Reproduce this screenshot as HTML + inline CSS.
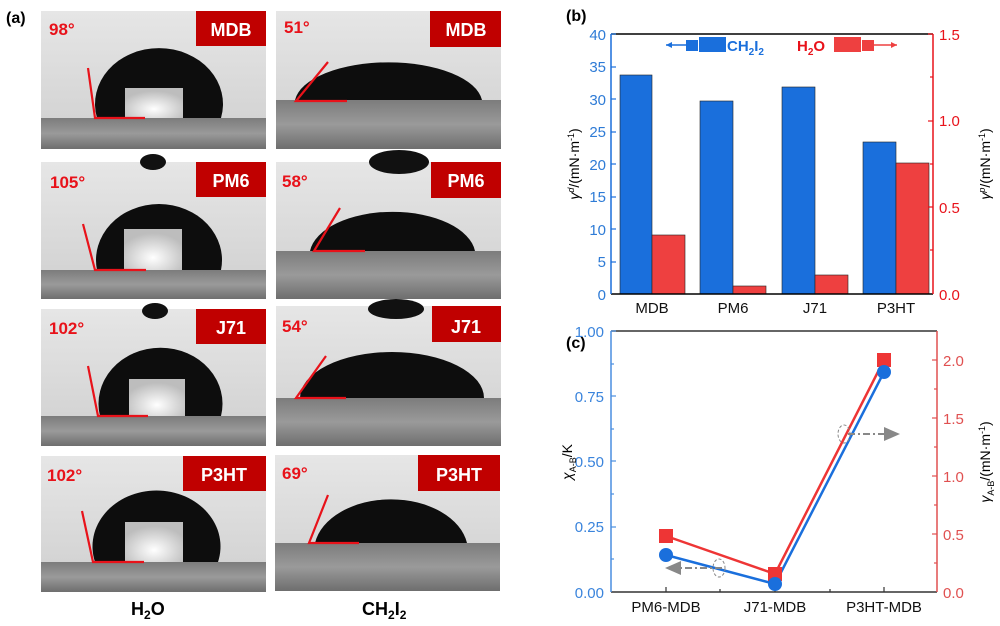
<!DOCTYPE html>
<html><head><meta charset="utf-8"><style>
html,body{margin:0;padding:0;background:#fff;}
svg{display:block;font-family:"Liberation Sans",Arial,sans-serif;}
</style></head><body>
<svg width="1000" height="626" viewBox="0 0 1000 626" xmlns="http://www.w3.org/2000/svg">
<defs>
<linearGradient id="bg" x1="0" y1="0" x2="0" y2="1">
<stop offset="0" stop-color="#e6e6e6"/><stop offset="1" stop-color="#cfcfcf"/>
</linearGradient>
<linearGradient id="sub" x1="0" y1="0" x2="0" y2="1">
<stop offset="0" stop-color="#7c7c7c"/><stop offset="0.5" stop-color="#9a9a9a"/><stop offset="1" stop-color="#6e6e6e"/>
</linearGradient>
<radialGradient id="hl" cx="0.5" cy="0.7" r="0.6">
<stop offset="0" stop-color="#ffffff"/><stop offset="1" stop-color="#bdbdbd"/>
</radialGradient>
</defs>

<text x="6" y="23" font-size="16" font-weight="bold" fill="#000">(a)</text>

<!-- Water column -->
<g transform="translate(41,11)">
<rect width="225" height="138" fill="url(#bg)"/><rect y="107" width="225" height="31" fill="url(#sub)"/>
<path d="M56,107 A64,56 0 1 1 180,107 Z" fill="#0d0d0d"/>
<rect x="84" y="77" width="58" height="30" fill="url(#hl)"/>
<polyline points="47,57 54,107 104,107" fill="none" stroke="#e8121a" stroke-width="2.2"/>
<text x="8" y="24" font-size="17" font-weight="bold" fill="#e8121a">98°</text>
<rect x="155" y="0" width="70" height="35" fill="#c00000"/><text x="190" y="25" font-size="18" font-weight="bold" fill="#fff" text-anchor="middle">MDB</text>
</g>
<g transform="translate(41,162)">
<rect width="225" height="137" fill="url(#bg)"/><rect y="108" width="225" height="29" fill="url(#sub)"/>
<ellipse cx="112" cy="0" rx="13" ry="8" fill="#111"/>
<path d="M56,108 A63,56 0 1 1 180,108 Z" fill="#0d0d0d"/>
<rect x="83" y="67" width="58" height="41" fill="url(#hl)"/>
<polyline points="42,62 54,108 105,108" fill="none" stroke="#e8121a" stroke-width="2.2"/>
<text x="9" y="26" font-size="17" font-weight="bold" fill="#e8121a">105°</text>
<rect x="155" y="0" width="70" height="35" fill="#c00000"/><text x="190" y="25" font-size="18" font-weight="bold" fill="#fff" text-anchor="middle">PM6</text>
</g>
<g transform="translate(41,309)">
<rect width="225" height="137" fill="url(#bg)"/><rect y="107" width="225" height="30" fill="url(#sub)"/>
<ellipse cx="114" cy="2" rx="13" ry="8" fill="#111"/>
<path d="M59,107 A62,56 0 1 1 180,107 Z" fill="#0d0d0d"/>
<rect x="88" y="70" width="56" height="37" fill="url(#hl)"/>
<polyline points="47,57 57,107 107,107" fill="none" stroke="#e8121a" stroke-width="2.2"/>
<text x="8" y="25" font-size="17" font-weight="bold" fill="#e8121a">102°</text>
<rect x="155" y="0" width="70" height="35" fill="#c00000"/><text x="190" y="25" font-size="18" font-weight="bold" fill="#fff" text-anchor="middle">J71</text>
</g>
<g transform="translate(41,456)">
<rect width="225" height="136" fill="url(#bg)"/><rect y="106" width="225" height="30" fill="url(#sub)"/>
<path d="M54,106 A64,56 0 1 1 177,106 Z" fill="#0d0d0d"/>
<rect x="84" y="66" width="58" height="40" fill="url(#hl)"/>
<polyline points="41,55 52,106 103,106" fill="none" stroke="#e8121a" stroke-width="2.2"/>
<text x="6" y="25" font-size="17" font-weight="bold" fill="#e8121a">102°</text>
<rect x="142" y="0" width="83" height="35" fill="#c00000"/><text x="183" y="25" font-size="18" font-weight="bold" fill="#fff" text-anchor="middle">P3HT</text>
</g>

<!-- CH2I2 column -->
<g transform="translate(276,11)">
<rect width="225" height="138" fill="url(#bg)"/><rect y="89" width="225" height="49" fill="url(#sub)"/>
<path d="M19,89 A94,42 0 0 1 206,89 Z" fill="#0d0d0d"/>
<polyline points="52,51 20,90 71,90" fill="none" stroke="#e8121a" stroke-width="2.2"/>
<text x="8" y="22" font-size="17" font-weight="bold" fill="#e8121a">51°</text>
<rect x="154" y="0" width="71" height="36" fill="#c00000"/><text x="190" y="25" font-size="18" font-weight="bold" fill="#fff" text-anchor="middle">MDB</text>
</g>
<g transform="translate(276,162)">
<rect width="225" height="137" fill="url(#bg)"/><rect y="89" width="225" height="48" fill="url(#sub)"/>
<ellipse cx="123" cy="0" rx="30" ry="12" fill="#111"/>
<path d="M34,89 A83,44 0 0 1 199,89 Z" fill="#0d0d0d"/>
<polyline points="64,46 38,89 89,89" fill="none" stroke="#e8121a" stroke-width="2.2"/>
<text x="6" y="25" font-size="17" font-weight="bold" fill="#e8121a">58°</text>
<rect x="155" y="0" width="70" height="36" fill="#c00000"/><text x="190" y="25" font-size="18" font-weight="bold" fill="#fff" text-anchor="middle">PM6</text>
</g>
<g transform="translate(276,306)">
<rect width="225" height="140" fill="url(#bg)"/><rect y="92" width="225" height="48" fill="url(#sub)"/>
<ellipse cx="120" cy="3" rx="28" ry="10" fill="#111"/>
<path d="M24,92 A92,46 0 0 1 208,92 Z" fill="#0d0d0d"/>
<polyline points="50,50 20,92 70,92" fill="none" stroke="#e8121a" stroke-width="2.2"/>
<text x="6" y="26" font-size="17" font-weight="bold" fill="#e8121a">54°</text>
<rect x="156" y="0" width="69" height="36" fill="#c00000"/><text x="190" y="27" font-size="18" font-weight="bold" fill="#fff" text-anchor="middle">J71</text>
</g>
<g transform="translate(275,455)">
<rect width="225" height="136" fill="url(#bg)"/><rect y="88" width="225" height="48" fill="url(#sub)"/>
<path d="M40,88 A77,52 0 0 1 192,88 Z" fill="#0d0d0d"/>
<polyline points="53,40 34,88 84,88" fill="none" stroke="#e8121a" stroke-width="2.2"/>
<text x="7" y="24" font-size="17" font-weight="bold" fill="#e8121a">69°</text>
<rect x="143" y="0" width="82" height="36" fill="#c00000"/><text x="184" y="26" font-size="18" font-weight="bold" fill="#fff" text-anchor="middle">P3HT</text>
</g>

<text x="131" y="615" font-size="18" font-weight="bold">H<tspan font-size="12" dy="4">2</tspan><tspan dy="-4">O</tspan></text>
<text x="362" y="615" font-size="18" font-weight="bold">CH<tspan font-size="12" dy="4">2</tspan><tspan dy="-4">I</tspan><tspan font-size="12" dy="4">2</tspan></text>

<!-- Panel b -->
<text x="566" y="21" font-size="16" font-weight="bold">(b)</text>
<rect x="620" y="75" width="32" height="219" fill="#1a6fdc" stroke="#222" stroke-width="0.6"/>
<rect x="652" y="235" width="33" height="59" fill="#ee4040" stroke="#222" stroke-width="0.6"/>
<rect x="700" y="101" width="33" height="193" fill="#1a6fdc" stroke="#222" stroke-width="0.6"/>
<rect x="733" y="286" width="33" height="8" fill="#ee4040" stroke="#222" stroke-width="0.6"/>
<rect x="782" y="87" width="33" height="207" fill="#1a6fdc" stroke="#222" stroke-width="0.6"/>
<rect x="815" y="275" width="33" height="19" fill="#ee4040" stroke="#222" stroke-width="0.6"/>
<rect x="863" y="142" width="33" height="152" fill="#1a6fdc" stroke="#222" stroke-width="0.6"/>
<rect x="896" y="163" width="33" height="131" fill="#ee4040" stroke="#222" stroke-width="0.6"/>
<line x1="611" y1="34" x2="933" y2="34" stroke="#000" stroke-width="1.5"/>
<line x1="611" y1="294" x2="933" y2="294" stroke="#000" stroke-width="1.5"/>
<line x1="611" y1="34" x2="611" y2="294" stroke="#1a6fdc" stroke-width="1.5"/>
<line x1="933" y1="34" x2="933" y2="294" stroke="#e8121a" stroke-width="1.5"/>
<g stroke="#1a6fdc" stroke-width="1.2">
<line x1="611" y1="34" x2="616" y2="34"/><line x1="611" y1="67" x2="616" y2="67"/><line x1="611" y1="99" x2="616" y2="99"/><line x1="611" y1="132" x2="616" y2="132"/><line x1="611" y1="164" x2="616" y2="164"/><line x1="611" y1="197" x2="616" y2="197"/><line x1="611" y1="229" x2="616" y2="229"/><line x1="611" y1="262" x2="616" y2="262"/>
</g>
<g stroke="#e8121a" stroke-width="1.2">
<line x1="928" y1="34" x2="933" y2="34"/><line x1="928" y1="121" x2="933" y2="121"/><line x1="928" y1="207" x2="933" y2="207"/><line x1="930" y1="77" x2="933" y2="77"/><line x1="930" y1="164" x2="933" y2="164"/><line x1="930" y1="250" x2="933" y2="250"/>
</g>
<g font-size="15" fill="#2e7bd6" text-anchor="end">
<text x="606" y="40">40</text><text x="606" y="72">35</text><text x="606" y="105">30</text><text x="606" y="137">25</text><text x="606" y="170">20</text><text x="606" y="202">15</text><text x="606" y="235">10</text><text x="606" y="267">5</text><text x="606" y="300">0</text>
</g>
<g font-size="15" fill="#e8121a">
<text x="939" y="40">1.5</text><text x="939" y="126">1.0</text><text x="939" y="213">0.5</text><text x="939" y="300">0.0</text>
</g>
<g font-size="15" fill="#111" text-anchor="middle">
<text x="652" y="313">MDB</text><text x="733" y="313">PM6</text><text x="815" y="313">J71</text><text x="896" y="313">P3HT</text>
</g>
<text transform="translate(579,164) rotate(-90)" font-size="14" text-anchor="middle"><tspan font-style="italic">γ<tspan font-size="9" dy="-5">d</tspan></tspan><tspan dy="5">/(mN·m</tspan><tspan font-size="9" dy="-5">-1</tspan><tspan dy="5">)</tspan></text>
<text transform="translate(990,164) rotate(-90)" font-size="14" text-anchor="middle"><tspan font-style="italic">γ<tspan font-size="9" dy="-5">p</tspan></tspan><tspan dy="5">/(mN·m</tspan><tspan font-size="9" dy="-5">-1</tspan><tspan dy="5">)</tspan></text>
<!-- legend -->
<line x1="666" y1="45" x2="686" y2="45" stroke="#1a6fdc" stroke-width="1.5"/><polygon points="666,45 672,42 672,48" fill="#1a6fdc"/>
<rect x="686" y="40" width="12" height="11" fill="#1a6fdc"/><rect x="699" y="37" width="27" height="15" fill="#1a6fdc"/>
<text x="727" y="51" font-size="15" font-weight="bold" fill="#1a6fdc">CH<tspan font-size="10" dy="4">2</tspan><tspan dy="-4">I</tspan><tspan font-size="10" dy="4">2</tspan></text>
<text x="797" y="51" font-size="15" font-weight="bold" fill="#e8121a">H<tspan font-size="10" dy="4">2</tspan><tspan dy="-4">O</tspan></text>
<rect x="834" y="37" width="27" height="15" fill="#ee4040"/><rect x="862" y="40" width="12" height="11" fill="#ee4040"/>
<line x1="874" y1="45" x2="897" y2="45" stroke="#ee4040" stroke-width="1.5"/><polygon points="897,45 891,42 891,48" fill="#ee4040"/>

<!-- Panel c -->
<text x="566" y="348" font-size="16" font-weight="bold">(c)</text>
<line x1="611" y1="331" x2="937" y2="331" stroke="#333" stroke-width="1.5"/>
<line x1="611" y1="592" x2="937" y2="592" stroke="#333" stroke-width="1.5"/>
<line x1="611" y1="331" x2="611" y2="592" stroke="#4a8ee0" stroke-width="1.5"/>
<line x1="937" y1="331" x2="937" y2="592" stroke="#e05050" stroke-width="1.5"/>
<g stroke="#4a8ee0" stroke-width="1.2">
<line x1="611" y1="331" x2="616" y2="331"/><line x1="611" y1="396" x2="616" y2="396"/><line x1="611" y1="461" x2="616" y2="461"/><line x1="611" y1="527" x2="616" y2="527"/><line x1="611" y1="364" x2="614" y2="364"/><line x1="611" y1="429" x2="614" y2="429"/><line x1="611" y1="494" x2="614" y2="494"/><line x1="611" y1="559" x2="614" y2="559"/>
</g>
<g stroke="#e05050" stroke-width="1.2">
<line x1="932" y1="360" x2="937" y2="360"/><line x1="932" y1="418" x2="937" y2="418"/><line x1="932" y1="476" x2="937" y2="476"/><line x1="932" y1="534" x2="937" y2="534"/><line x1="934" y1="389" x2="937" y2="389"/><line x1="934" y1="447" x2="937" y2="447"/><line x1="934" y1="505" x2="937" y2="505"/><line x1="934" y1="563" x2="937" y2="563"/>
</g>
<g stroke="#333" stroke-width="1.2"><line x1="666" y1="592" x2="666" y2="587"/><line x1="775" y1="592" x2="775" y2="587"/><line x1="884" y1="592" x2="884" y2="587"/><line x1="720" y1="592" x2="720" y2="589"/><line x1="830" y1="592" x2="830" y2="589"/></g>
<g font-size="15" fill="#3a84dc" text-anchor="end">
<text x="604" y="337">1.00</text><text x="604" y="402">0.75</text><text x="604" y="467">0.50</text><text x="604" y="532">0.25</text><text x="604" y="598">0.00</text>
</g>
<g font-size="15" fill="#e05050">
<text x="943" y="366">2.0</text><text x="943" y="424">1.5</text><text x="943" y="482">1.0</text><text x="943" y="540">0.5</text><text x="943" y="598">0.0</text>
</g>
<g font-size="15" fill="#111" text-anchor="middle">
<text x="666" y="612">PM6-MDB</text><text x="775" y="612">J71-MDB</text><text x="884" y="612">P3HT-MDB</text>
</g>
<text transform="translate(572,462) rotate(-90)" font-size="14" text-anchor="middle"><tspan font-style="italic">χ</tspan><tspan font-size="9" dy="4">A-B</tspan><tspan dy="-4">/K</tspan></text>
<text transform="translate(990,462) rotate(-90)" font-size="14" text-anchor="middle"><tspan font-style="italic">γ</tspan><tspan font-size="9" dy="4">A-B</tspan><tspan dy="-4">/(mN·m</tspan><tspan font-size="9" dy="-5">-1</tspan><tspan dy="5">)</tspan></text>
<polyline points="666,536 775,574 884,360" fill="none" stroke="#ee3535" stroke-width="2.5"/>
<polyline points="666,555 775,584 884,372" fill="none" stroke="#1a6fdc" stroke-width="2.5"/>
<rect x="659" y="529" width="14" height="14" fill="#ee3535"/><rect x="768" y="567" width="14" height="14" fill="#ee3535"/><rect x="877" y="353" width="14" height="14" fill="#ee3535"/>
<circle cx="666" cy="555" r="7" fill="#1a6fdc"/><circle cx="775" cy="584" r="7" fill="#1a6fdc"/><circle cx="884" cy="372" r="7" fill="#1a6fdc"/>
<!-- arrows -->
<ellipse cx="719" cy="568" rx="6" ry="9" fill="none" stroke="#888" stroke-dasharray="3,2"/>
<line x1="722" y1="568" x2="680" y2="568" stroke="#888" stroke-width="2" stroke-dasharray="7,3,2,3"/>
<polygon points="665,568 681,561 681,575" fill="#888"/>
<ellipse cx="844" cy="434" rx="6" ry="9" fill="none" stroke="#888" stroke-dasharray="3,2"/>
<line x1="848" y1="434" x2="886" y2="434" stroke="#888" stroke-width="2" stroke-dasharray="7,3,2,3"/>
<polygon points="900,434 884,427 884,441" fill="#888"/>
</svg>
</body></html>
